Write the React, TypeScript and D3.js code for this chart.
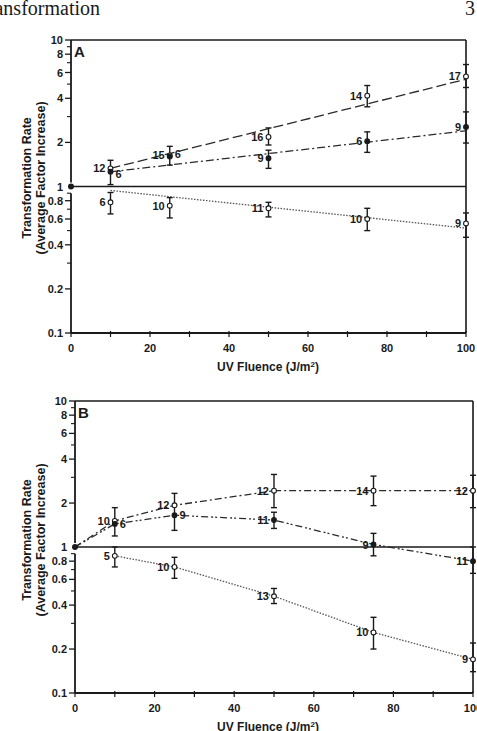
import React from "react";
import * as d3 from "d3";

// Fluence levels (J/m²) at which transformation was scored
const DOSES = [10, 25, 50, 75, 100];
const FIT_DOSES = [10, 100];

// Panel A — rising series, open circles (long dashes)
const aRiseOpen = [1.33, 1.63, 2.18, 4.17, 5.64];
const aRiseOpenLo = [1.03, 1.4, 1.92, 3.5, 4.74];
const aRiseOpenHi = [1.51, 1.88, 2.51, 4.89, 6.8];
const aRiseOpenN = [12, 15, 16, 14, 17];
const aRiseOpenFit = [1.33, 5.4];

// Panel A — rising series, filled circles (dash-dot)
const aRiseFilled = [1.26, 1.6, 1.56, 2.04, 2.55];
const aRiseFilledLo = [null, null, 1.33, 1.71, 1.98];
const aRiseFilledHi = [null, null, 1.77, 2.36, 3.23];
const aRiseFilledN = [6, 6, 9, 6, 9];
const aRiseFilledFit = [1.26, 2.4];

// Panel A — declining series, open circles (dotted)
const aFallOpen = [0.78, 0.74, 0.71, 0.6, 0.56];
const aFallOpenLo = [0.65, 0.61, 0.62, 0.5, 0.45];
const aFallOpenHi = [0.91, 0.84, 0.78, 0.71, 0.66];
const aFallOpenN = [6, 10, 11, 10, 9];
const aFallOpenFit = [0.94, 0.52];

// Panel B — upper series, open circles
const bHighOpen = [1.51, 1.93, 2.43, 2.43, 2.43];
const bHighOpenLo = [1.19, 1.3, 1.86, 1.92, 1.86];
const bHighOpenHi = [1.86, 2.33, 3.14, 3.06, 3.1];
const bHighOpenN = [10, 12, 12, 14, 12];

// Panel B — middle series, filled circles
const bMidFilled = [1.44, 1.65, 1.53, 1.04, 0.8];
const bMidFilledLo = [null, null, 1.34, 0.87, 0.66];
const bMidFilledHi = [null, null, 1.73, 1.24, 1.0];
const bMidFilledN = [6, 9, 11, 9, 11];

// Panel B — lower series, open circles (dotted)
const bLowOpen = [0.87, 0.73, 0.46, 0.26, 0.17];
const bLowOpenLo = [0.73, 0.61, 0.41, 0.2, 0.14];
const bLowOpenHi = [1.0, 0.85, 0.52, 0.33, 0.22];
const bLowOpenN = [5, 10, 13, 10, 9];

// Axis ticks
const X_TICKS = [0, 10, 20, 30, 40, 50, 60, 70, 80, 90, 100];
const X_LABELS = [0, 20, 40, 60, 80, 100];
const Y_MAJOR = [10, 8, 6, 4, 2, 1, 0.8, 0.6, 0.4, 0.2, 0.1];
const Y_MINOR = [9, 7, 5, 3, 0.9, 0.7, 0.5, 0.3];

const FONT = "'Liberation Sans', Arial, sans-serif";
const INK = "#1a1a1a";

type Series = {
  values: number[];
  lo: (number | null)[];
  hi: (number | null)[];
  n: number[];
  filled: boolean;
  sides: ("l" | "r")[];
  labelDy?: number[];
};

type Line = {
  pts: [number, number][];
  dash: string;
  width?: number;
  color?: string;
};

function Panel(props: {
  x0: number;
  x1: number;
  yTop: number;
  yBot: number;
  letter: string;
  series: Series[];
  lines: Line[];
  titleY: number;
  tickLabelY: number;
  yTitleCenter: number;
}) {
  const { x0, x1, yTop, yBot } = props;
  const x = d3.scaleLinear().domain([0, 100]).range([x0, x1]);
  const y = d3.scaleLog().domain([0.1, 10]).range([yBot, yTop]);
  const line = d3
    .line<[number, number]>()
    .x((d) => x(d[0]))
    .y((d) => y(d[1]));

  return (
    <g>
      {/* frame */}
      <line x1={x0} x2={x1} y1={yTop} y2={yTop} stroke={INK} strokeWidth={1.6} />
      <line x1={x1} x2={x1} y1={yTop} y2={yBot} stroke={INK} strokeWidth={1.6} />
      <line x1={x0} x2={x1} y1={yBot} y2={yBot} stroke={INK} strokeWidth={1.8} />
      {/* baseline at factor 1 */}
      <line x1={x0} x2={x1} y1={y(1)} y2={y(1)} stroke={INK} strokeWidth={1.6} />
      {/* broken y axis */}
      <line x1={x0} x2={x0} y1={yTop} y2={y(1) - 4} stroke={INK} strokeWidth={1.8} />
      <line x1={x0} x2={x0} y1={y(0.9)} y2={yBot} stroke={INK} strokeWidth={1.8} />
      {Y_MAJOR.filter((v) => v !== 1).map((v) => (
        <line key={"ma" + v} x1={x0 - 6} x2={x0} y1={y(v)} y2={y(v)} stroke={INK} strokeWidth={1.3} />
      ))}
      {Y_MINOR.map((v) => (
        <line key={"mi" + v} x1={x0 - 4} x2={x0} y1={y(v)} y2={y(v)} stroke={INK} strokeWidth={1.1} />
      ))}
      {Y_MAJOR.map((v) => (
        <text
          key={"yl" + v}
          x={x0 - 8}
          y={y(v) + 4}
          textAnchor="end"
          fontFamily={FONT}
          fontSize={11}
          fontWeight={600}
          fill={INK}
        >
          {String(v)}
        </text>
      ))}
      {X_TICKS.map((v) => (
        <line key={"xt" + v} x1={x(v)} x2={x(v)} y1={yBot - 2} y2={yBot + 4} stroke={INK} strokeWidth={1.2} />
      ))}
      {X_LABELS.map((v) => (
        <text
          key={"xl" + v}
          x={x(v)}
          y={props.tickLabelY}
          textAnchor="middle"
          fontFamily={FONT}
          fontSize={11}
          fontWeight={600}
          fill={INK}
        >
          {v}
        </text>
      ))}
      <text
        x={268}
        y={props.titleY}
        textAnchor="middle"
        fontFamily={FONT}
        fontSize={12}
        fontWeight={700}
        fill={INK}
      >
        UV Fluence (J/m
        <tspan dy={-4} fontSize={8}>
          2
        </tspan>
        <tspan dy={4}>)</tspan>
      </text>
      <g transform={`translate(31,${props.yTitleCenter}) rotate(-90)`}>
        <text textAnchor="middle" fontFamily={FONT} fontSize={12.5} fontWeight={600} fill={INK}>
          Transformation Rate
        </text>
        <text y={14} textAnchor="middle" fontFamily={FONT} fontSize={12.5} fontWeight={600} fill={INK}>
          (Average Factor Increase)
        </text>
      </g>
      <text x={x0 + 3} y={yTop + 17} fontFamily={FONT} fontSize={15} fontWeight={700} fill={INK}>
        {props.letter}
      </text>

      {/* curves */}
      {props.lines.map((l, i) => (
        <path
          key={"ln" + i}
          d={line(l.pts) || ""}
          fill="none"
          stroke={l.color || "#2a2a2a"}
          strokeWidth={l.width || 1.3}
          strokeDasharray={l.dash}
        />
      ))}

      {/* origin point */}
      <circle cx={x(0)} cy={y(1)} r={3} fill={INK} />

      {/* error bars, markers and sample counts */}
      {props.series.map((s, si) => (
        <g key={"s" + si}>
          {DOSES.map((d, i) => {
            const cx = x(d);
            const cy = y(s.values[i]);
            const lo = s.lo[i];
            const hi = s.hi[i];
            const side = s.sides[i];
            const dy = s.labelDy ? s.labelDy[i] : 0;
            return (
              <g key={i}>
                {lo != null && hi != null && (
                  <g stroke={INK} strokeWidth={1.4}>
                    <line x1={cx} x2={cx} y1={y(hi)} y2={y(lo)} />
                    <line x1={cx - 3} x2={cx + 3} y1={y(hi)} y2={y(hi)} />
                    <line x1={cx - 3} x2={cx + 3} y1={y(lo)} y2={y(lo)} />
                  </g>
                )}
                <circle
                  cx={cx}
                  cy={cy}
                  r={2.4}
                  fill={s.filled ? INK : "#fff"}
                  stroke={INK}
                  strokeWidth={1.1}
                />
                <text
                  x={side === "l" ? cx - 5 : cx + 5}
                  y={cy + 4 + dy}
                  textAnchor={side === "l" ? "end" : "start"}
                  fontFamily={FONT}
                  fontSize={11}
                  fontWeight={600}
                  fill={INK}
                >
                  {s.n[i]}
                </text>
              </g>
            );
          })}
        </g>
      ))}
    </g>
  );
}

const zipFit = (vals: number[]): [number, number][] =>
  FIT_DOSES.map((d, i) => [d, vals[i]] as [number, number]);
const zipPts = (vals: number[], withOrigin: boolean): [number, number][] => {
  const pts = DOSES.map((d, i) => [d, vals[i]] as [number, number]);
  return withOrigin ? ([[0, 1]] as [number, number][]).concat(pts) : pts;
};

export default function App() {
  const seriesA: Series[] = [
    {
      values: aRiseOpen,
      lo: aRiseOpenLo,
      hi: aRiseOpenHi,
      n: aRiseOpenN,
      filled: false,
      sides: ["l", "l", "l", "l", "l"],
    },
    {
      values: aRiseFilled,
      lo: aRiseFilledLo,
      hi: aRiseFilledHi,
      n: aRiseFilledN,
      filled: true,
      sides: ["r", "r", "l", "l", "l"],
      labelDy: [2, -3, 0, 0, 0],
    },
    {
      values: aFallOpen,
      lo: aFallOpenLo,
      hi: aFallOpenHi,
      n: aFallOpenN,
      filled: false,
      sides: ["l", "l", "l", "l", "l"],
    },
  ];
  const linesA: Line[] = [
    { pts: zipFit(aRiseOpenFit), dash: "10,4" },
    { pts: zipFit(aRiseFilledFit), dash: "8,3,2,3" },
    { pts: zipFit(aFallOpenFit), dash: "1.5,1.5", color: "#555" },
  ];

  const seriesB: Series[] = [
    {
      values: bHighOpen,
      lo: bHighOpenLo,
      hi: bHighOpenHi,
      n: bHighOpenN,
      filled: false,
      sides: ["l", "l", "l", "l", "l"],
    },
    {
      values: bMidFilled,
      lo: bMidFilledLo,
      hi: bMidFilledHi,
      n: bMidFilledN,
      filled: true,
      sides: ["r", "r", "l", "l", "l"],
    },
    {
      values: bLowOpen,
      lo: bLowOpenLo,
      hi: bLowOpenHi,
      n: bLowOpenN,
      filled: false,
      sides: ["l", "l", "l", "l", "l"],
    },
  ];
  const linesB: Line[] = [
    { pts: zipPts(bHighOpen, true), dash: "7,3,2,3" },
    { pts: zipPts(bMidFilled, true), dash: "7,3,2,2,2,3" },
    { pts: zipPts(bLowOpen, false), dash: "1.5,1.5", color: "#555" },
  ];

  return (
    <svg
      width={477}
      height={731}
      style={{ position: "absolute", left: 0, top: 0, background: "#fff" }}
    >
      <rect width={477} height={731} fill="#fff" />
      {/* running head */}
      <text x={100} y={15} textAnchor="end" fontFamily="'Liberation Serif', serif" fontSize={20} fill={INK}>
        Transformation
      </text>
      <text x={465} y={15} fontFamily="'Liberation Serif', serif" fontSize={20} fill={INK}>
        3
      </text>

      <Panel
        x0={71}
        x1={466}
        yTop={40}
        yBot={333}
        letter="A"
        series={seriesA}
        lines={linesA}
        tickLabelY={352}
        titleY={371}
        yTitleCenter={178}
      />
      <Panel
        x0={75}
        x1={473}
        yTop={401}
        yBot={693}
        letter="B"
        series={seriesB}
        lines={linesB}
        tickLabelY={712}
        titleY={731}
        yTitleCenter={540}
      />
    </svg>
  );
}
